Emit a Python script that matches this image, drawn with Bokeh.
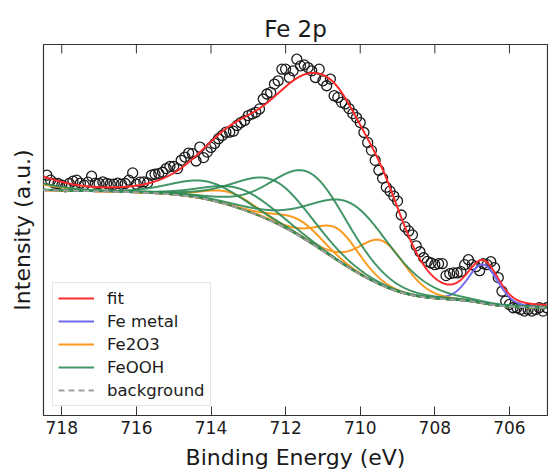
import numpy as np
from bokeh.plotting import figure
from bokeh.models import Range1d, Legend, LegendItem, FixedTicker
from bokeh.embed import file_html
from bokeh.resources import INLINE

# ---------------- data ----------------
energy = [round(718.4 - 0.1 * i, 1) for i in range(135)]
intensity = [
    241.7, 236.7, 233.7, 233.4, 231.7, 230.0, 233.4, 235.7, 236.7, 233.7,
    231.7, 234.7, 240.7, 233.7, 233.4, 235.0, 233.4, 232.7, 232.7, 233.7,
    232.7, 233.4, 236.7, 244.0, 232.7, 234.7, 235.0, 234.0, 241.7, 242.7,
    243.4, 244.7, 248.4, 250.7, 250.7, 248.4, 256.7, 260.0, 264.0, 263.4,
    256.0, 270.0, 259.4, 265.0, 269.7, 273.7, 278.4, 281.7, 285.0, 285.0,
    286.0, 291.7, 294.7, 296.7, 301.7, 303.4, 305.0, 308.4, 318.4, 323.4,
    325.0, 333.4, 336.7, 348.4, 348.4, 340.0, 346.7, 358.4, 351.7, 352.7,
    350.0, 346.7, 340.0, 348.4, 336.7, 331.7, 338.4, 321.7, 320.0, 315.0,
    313.4, 308.7, 303.7, 299.7, 294.7, 284.7, 274.7, 266.7, 256.7, 246.7,
    238.7, 229.7, 225.7, 220.7, 215.7, 201.7, 189.7, 185.7, 181.7, 170.7,
    164.7, 158.7, 155.0, 153.4, 151.7, 152.7, 152.7, 140.7, 142.7, 143.4,
    143.4, 144.7, 151.7, 156.7, 151.7, 149.7, 145.7, 152.7, 151.7, 154.7,
    148.7, 138.7, 125.0, 115.0, 111.7, 108.4, 108.4, 106.7, 105.0, 106.7,
    105.0, 106.7, 108.4, 105.0, 108.4,
]

# fitted components: centre (eV), height above background, FWHM (eV)
metal_center, metal_height, metal_fwhm = [706.7], [39.0], [0.95]
fe2o3_center = [709.4, 710.6, 711.6, 713.5]
fe2o3_height = [45.0, 32.0, 16.0, 13.0]
fe2o3_fwhm = [1.5, 1.4, 1.5, 1.6]
feooh_center = [710.2, 711.3, 712.3, 713.2, 714.1]
feooh_height = [66.0, 70.0, 42.0, 20.0, 18.0]
feooh_fwhm = [2.6, 2.4, 2.4, 2.2, 2.2]
# shake-up satellites (Fe2O3, FeOOH) above the plotted range
sat_center = [719.3, 719.6]
sat_height = [8.0, 12.0]
sat_fwhm = [2.2, 2.4]

# background end values and linear slope
bg_left, bg_right, bg_slope = 226.7, 108.5, 0.5
e_min, e_max = 705.0, 718.5

xticks = [706, 708, 710, 712, 714, 716, 718]
y_top = 373.2

# ---------------- model curves ----------------
E = np.linspace(e_max, e_min, 1351)


def gl(x, c, h, w, m=0.2):
    d = (x - c) / w
    return h * ((1 - m) * np.exp(-4 * np.log(2) * d * d) + m / (1 + 4 * d * d))


metal = [gl(E, c, h, w) for c, h, w in zip(metal_center, metal_height, metal_fwhm)]
fe2o3 = [gl(E, c, h, w) for c, h, w in zip(fe2o3_center, fe2o3_height, fe2o3_fwhm)]
feooh = [gl(E, c, h, w) for c, h, w in zip(feooh_center, feooh_height, feooh_fwhm)]
sats = [gl(E, c, h, w) for c, h, w in zip(sat_center, sat_height, sat_fwhm)]
fe2o3.append(sats[0])
feooh.append(sats[1])
main = np.sum(metal + fe2o3[:-1] + feooh[:-1], axis=0)
total = main + sats[0] + sats[1]

# Shirley-type background from the main 2p3/2 envelope
Ea = E[::-1]
Sa = main[::-1]
cum = np.concatenate([[0.0], np.cumsum(0.5 * (Sa[1:] + Sa[:-1]) * np.diff(Ea))])
step = bg_left - bg_right - bg_slope * (e_max - e_min)
bg_a = bg_right + bg_slope * (Ea - e_min) + step * cum / cum[-1]
bg = bg_a[::-1]
fit = bg + total

# ---------------- figure ----------------
FRAME_H = 372
p = figure(width=548, height=472, x_range=Range1d(718.49, 704.98), y_range=Range1d(0, y_top),
           output_backend="svg", toolbar_location=None,
           min_border_left=43, min_border_right=1, min_border_top=44, min_border_bottom=55)

p.title.text = "Fe 2p"
p.title.align = "center"
p.title.text_font = "DejaVu Sans"
p.title.text_font_size = "23px"
p.title.text_font_style = "normal"
p.title.text_color = "#1a1a1a"
p.title.standoff = 6

p.xgrid.visible = False
p.ygrid.visible = False
p.outline_line_color = "#333333"
p.outline_line_width = 1.2
p.background_fill_color = "white"
p.border_fill_color = "white"

xa = p.xaxis[0]
xa.ticker = FixedTicker(ticks=xticks)
xa.axis_line_color = None
xa.major_tick_in = 9
xa.major_tick_out = 0
xa.major_tick_line_color = "#333333"
xa.minor_tick_line_color = None
xa.major_label_text_font = "DejaVu Sans"
xa.major_label_text_font_size = "17px"
xa.major_label_text_color = "#1a1a1a"
xa.major_label_standoff = 5
xa.axis_label = "Binding Energy (eV)"
xa.axis_label_text_font = "DejaVu Sans"
xa.axis_label_text_font_size = "22px"
xa.axis_label_text_font_style = "normal"
xa.axis_label_text_color = "#1a1a1a"
xa.axis_label_standoff = 8

ya = p.yaxis[0]
ya.ticker = FixedTicker(ticks=[])
ya.axis_line_color = None
ya.major_tick_line_color = None
ya.major_tick_out = 0
ya.major_tick_in = 0
ya.minor_tick_line_color = None
ya.axis_label = "Intensity (a.u.)"
ya.axis_label_text_font = "DejaVu Sans"
ya.axis_label_text_font_size = "22px"
ya.axis_label_text_font_style = "normal"
ya.axis_label_text_color = "#1a1a1a"
ya.axis_label_standoff = 9

# inward ticks on the top edge
tick_len = 9 * y_top / FRAME_H
p.segment(x0=xticks, y0=[y_top] * len(xticks), x1=xticks, y1=[y_top - tick_len] * len(xticks),
          line_color="#333333", line_width=1)

RED, BLUE, ORANGE, GREEN, GREY = "#ff2a2a", "#7368f0", "#fb9a1e", "#2e8b57", "#a0a0a0"

p.scatter(energy, intensity, marker="circle", size=10, fill_color=None,
          line_color="#1a1a1a", line_width=1.3)
r_fit = p.line(E, fit, line_color=RED, line_width=2)
r_metal = None
for c in metal:
    r_metal = p.line(E, bg + c, line_color=BLUE, line_width=2)
r_o = []
for c in fe2o3:
    r_o.append(p.line(E, bg + c, line_color=ORANGE, line_width=2))
r_g = []
for c in feooh:
    r_g.append(p.line(E, bg + c, line_color=GREEN, line_width=2, line_alpha=0.9))
r_bg = p.line(E, bg, line_color=GREY, line_width=2, line_dash="6 4")

legend = Legend(items=[
    LegendItem(label="fit", renderers=[r_fit]),
    LegendItem(label="Fe metal", renderers=[r_metal]),
    LegendItem(label="Fe2O3", renderers=[r_o[0]]),
    LegendItem(label="FeOOH", renderers=[r_g[0]]),
    LegendItem(label="background", renderers=[r_bg]),
], location="bottom_left")
legend.margin = 9
legend.padding = 5
legend.spacing = 3
legend.glyph_width = 36
legend.glyph_height = 20
legend.label_height = 20
legend.label_standoff = 13
legend.label_text_font = "DejaVu Sans"
legend.label_text_font_size = "16.5px"
legend.label_text_color = "#1a1a1a"
legend.border_line_color = "#cccccc"
legend.border_line_width = 1
legend.background_fill_alpha = 0.85
p.add_layout(legend)

open("out.html", "w").write(file_html(p, INLINE))
